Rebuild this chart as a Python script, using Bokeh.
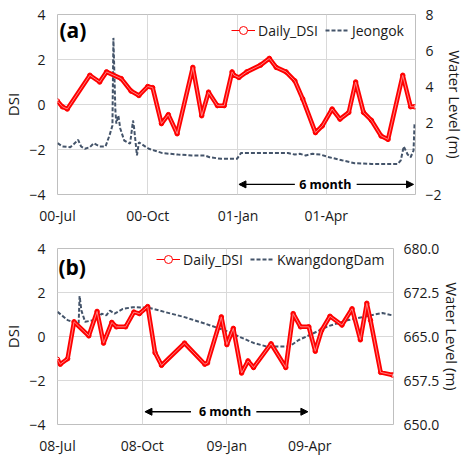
import pandas as pd
from bokeh.plotting import figure
from bokeh.models import (Range1d, LinearAxis, FixedTicker, DatetimeTickFormatter,
                          Legend, LegendItem, Label, Arrow, NormalHead, NumeralTickFormatter)
from bokeh.layouts import column
from bokeh.embed import file_html
from bokeh.resources import INLINE

# ---------------- data ----------------
A_DSI_DATES = ["2000-07-01","2000-07-06","2000-07-11","2000-08-03","2000-08-13","2000-08-20","2000-09-04","2000-09-14","2000-09-22","2000-10-01",
               "2000-10-06","2000-10-15","2000-10-22","2000-10-31","2000-11-16","2000-11-25","2000-12-02","2000-12-11","2000-12-18","2000-12-26",
               "2000-12-28","2001-01-02","2001-01-10","2001-01-24","2001-02-02","2001-02-09","2001-02-19","2001-02-28","2001-03-08","2001-03-21",
               "2001-03-28","2001-04-07","2001-04-15","2001-04-24","2001-05-01","2001-05-09","2001-05-17","2001-05-27","2001-06-03","2001-06-18",
               "2001-06-26","2001-06-30"]
A_DSI = [0.15,-0.1,-0.2,1.3,1.0,1.45,1.15,0.6,0.4,0.8,
         0.75,-0.85,-0.45,-1.3,1.65,-0.5,0.55,-0.05,-0.05,1.45,
         1.3,1.2,1.45,1.75,2.05,1.65,1.45,1.05,0.25,-1.25,
         -0.95,-0.2,-0.65,-0.35,1.0,-0.35,-0.7,-1.4,-1.55,1.3,
         -0.1,-0.1]

A_WL_DATES = ["2000-07-01","2000-07-06","2000-07-14","2000-07-18","2000-07-22","2000-07-25","2000-07-29","2000-08-03","2000-08-07","2000-08-13",
              "2000-08-19","2000-08-23","2000-08-26","2000-08-27","2000-08-29","2000-08-30","2000-09-01","2000-09-03","2000-09-07","2000-09-13",
              "2000-09-16","2000-09-17","2000-09-20","2000-09-22","2000-10-02","2000-10-16","2000-11-01","2000-11-15","2000-11-28","2000-12-03",
              "2000-12-15","2000-12-31","2001-01-04","2001-01-30","2001-02-21","2001-02-28","2001-03-05","2001-03-11","2001-03-18","2001-03-26",
              "2001-04-04","2001-04-17","2001-04-30","2001-05-17","2001-06-13","2001-06-16","2001-06-19","2001-06-23","2001-06-26","2001-06-29",
              "2001-06-30"]
A_WL = [0.85,0.67,0.63,0.82,1.04,0.67,0.54,0.63,0.85,0.67,
        0.67,1.28,1.83,6.7,2.67,1.94,2.39,1.67,1.0,0.82,
        2.11,1.74,0.17,0.9,0.54,0.3,0.22,0.17,0.17,0.07,
        -0.02,-0.02,0.3,0.3,0.3,0.22,0.26,0.17,0.26,0.22,
        0.07,-0.1,-0.26,-0.3,-0.3,-0.1,0.67,0.22,0.07,0.44,
        1.9]

B_DSI_DATES = ["2008-07-01","2008-07-04","2008-07-12","2008-07-19","2008-08-04","2008-08-13","2008-08-20","2008-08-29","2008-09-03","2008-09-13",
               "2008-09-22","2008-09-28","2008-10-07","2008-10-15","2008-10-22","2008-11-16","2008-12-08","2008-12-11","2008-12-26","2009-01-01",
               "2009-01-08","2009-01-17","2009-01-24","2009-01-30","2009-02-18","2009-03-06","2009-03-14","2009-03-22","2009-03-31","2009-04-07",
               "2009-04-14","2009-04-23","2009-05-06","2009-05-17","2009-05-26","2009-06-02","2009-06-06","2009-06-17","2009-06-30"]
B_DSI = [-1.04,-1.26,-1.01,0.67,0.03,1.14,-0.3,0.64,0.44,0.44,
         1.11,1.04,1.36,-0.74,-1.31,-0.3,-1.26,-1.2,0.89,-0.37,
         0.37,-1.66,-1.11,-1.41,-0.33,-1.41,1.04,0.44,0.44,-0.67,
         0.29,0.92,0.52,1.26,-0.15,1.51,0.74,-1.63,-1.75]

B_WL_DATES = ["2008-07-01","2008-07-12","2008-07-22","2008-07-24","2008-07-25","2008-07-27","2008-07-31","2008-08-13","2008-08-18","2008-08-23",
              "2008-08-27","2008-09-01","2008-09-10","2008-09-21","2008-10-08","2008-11-16","2008-12-08","2008-12-29","2009-01-30","2009-02-13",
              "2009-03-10","2009-03-20","2009-04-03","2009-04-20","2009-05-13","2009-06-06","2009-06-19","2009-06-30"]
B_WL = [669.2,667.8,667.2,667.3,671.9,669.4,667.5,667.9,668.9,668.6,
        669.4,668.9,669.7,670.0,669.9,668.3,667.2,666.1,663.9,663.3,
        663.3,664.4,665.4,666.7,667.8,668.6,669.0,668.6]

A_XTICKS = ["2000-07-01", "2000-10-01", "2001-01-01", "2001-04-01"]
B_XTICKS = ["2008-07-01", "2008-10-01", "2009-01-01", "2009-04-01"]
DSI_TICKS = [-4, -2, 0, 2, 4]
A_WL_TICKS = [-2, 0, 2, 4, 6, 8]
B_WL_TICKS = [650.0, 657.5, 665.0, 672.5, 680.0]

# ---------------- style ----------------
FONT = "Open Sans"
RED = "#FF0000"
DASH = "#44546A"
GRID = "#D9D9D9"
OUTLINE = "#BFBFBF"
TXT = "#1a1a1a"


def ms(s):
    return pd.Timestamp(s).value / 1e6


def dt(lst):
    return pd.to_datetime(lst)


def style_axis(ax):
    ax.major_label_text_font = FONT
    ax.major_label_text_font_size = "14px"
    ax.major_label_text_color = TXT
    ax.axis_label_text_font = FONT
    ax.axis_label_text_font_size = "15px"
    ax.axis_label_text_font_style = "normal"
    ax.axis_label_text_color = TXT
    ax.axis_line_color = None
    ax.major_tick_line_color = None
    ax.minor_tick_line_color = None
    ax.major_tick_out = 0
    ax.major_tick_in = 0


def make_panel(dsi_dates, dsi, wl_dates, wl, xticks, x0, x1, wl_range, wl_ticks, wl_fmt,
               wl_name, tag, tag_pos, arrow_spec, legend_loc, width, height, borders,
               r_standoff):
    p = figure(width=width, height=height, x_axis_type="datetime",
               x_range=Range1d(ms(x0), ms(x1)), y_range=Range1d(-4, 4),
               output_backend="svg", toolbar_location=None,
               min_border_left=borders[0], min_border_right=borders[1],
               min_border_top=borders[2], min_border_bottom=borders[3])
    try:
        p.frame_align = False
    except Exception:
        pass
    p.extra_y_ranges = {"wl": Range1d(*wl_range)}
    p.outline_line_color = OUTLINE
    p.outline_line_width = 1
    p.background_fill_color = "white"
    p.border_fill_color = "white"

    p.xaxis.ticker = FixedTicker(ticks=[ms(t) for t in xticks])
    p.xaxis.formatter = DatetimeTickFormatter(years="%y-%b", months="%y-%b", days="%y-%b",
                                              hours="%y-%b", minutes="%y-%b")
    p.yaxis.ticker = FixedTicker(ticks=DSI_TICKS)
    p.yaxis.axis_label = "DSI"
    p.xgrid.grid_line_color = GRID
    p.ygrid.grid_line_color = GRID

    rax = LinearAxis(y_range_name="wl", ticker=FixedTicker(ticks=wl_ticks),
                     axis_label="Water Level (m)")
    if wl_fmt:
        rax.formatter = NumeralTickFormatter(format=wl_fmt)
    p.add_layout(rax, "right")
    for ax in [p.xaxis[0], p.yaxis[0], rax]:
        style_axis(ax)
    p.xaxis.major_label_standoff = 11
    p.yaxis[0].major_label_standoff = 12
    p.yaxis[0].axis_label_standoff = 3
    rax.major_label_standoff = r_standoff
    rax.axis_label_standoff = 0

    # water level (dashed)
    r_wl = p.line(dt(wl_dates), wl, y_range_name="wl", line_color=DASH, line_width=2,
                  line_dash="4 2")
    # DSI: thin line + hollow markers (used for the legend), then the dense band
    r_thin = p.line(dt(dsi_dates), dsi, line_color=RED, line_width=1)
    r_mk = p.scatter(dt(dsi_dates), dsi, marker="circle", size=4.5, line_color=RED,
                     fill_color="white")
    p.line(dt(dsi_dates), dsi, line_color=RED, line_width=4.5, line_join="round")
    p.line(dt(dsi_dates), dsi, line_color="#FF8080", line_width=1, line_join="round")

    legend = Legend(items=[LegendItem(label="Daily_DSI", renderers=[r_thin, r_mk]),
                           LegendItem(label=wl_name, renderers=[r_wl])],
                    location=legend_loc, orientation="horizontal",
                    label_text_font=FONT, label_text_font_size="14px", label_text_color=TXT,
                    glyph_width=24, glyph_height=20, label_standoff=3, spacing=7,
                    padding=0, margin=0, background_fill_alpha=0, border_line_color=None,
                    label_height=20)
    p.add_layout(legend)

    # panel tag
    p.add_layout(Label(x=ms(tag_pos[0]), y=tag_pos[1], text=tag, text_font=FONT,
                       text_font_size="21px", text_font_style="bold", text_color="black",
                       text_baseline="middle"))

    # 6 month arrows
    (ls, le), (rs, re_), mid, yv = arrow_spec
    for s, e in [(ls, le), (rs, re_)]:
        p.add_layout(Arrow(end=NormalHead(size=7, fill_color="black", line_color="black"),
                           x_start=ms(s), y_start=yv, x_end=ms(e), y_end=yv,
                           line_color="black", line_width=1.3))
    p.add_layout(Label(x=ms(mid), y=yv, text="6 month", text_font=FONT, text_font_size="12.5px",
                       text_font_style="bold", text_color="black",
                       text_align="center", text_baseline="middle"))
    return p


pa = make_panel(A_DSI_DATES, A_DSI, A_WL_DATES, A_WL, A_XTICKS, "2000-07-01", "2001-07-01",
                (-2, 8), A_WL_TICKS, None, "Jeongok", "(a)", ("2000-07-03", 3.3),
                (("2001-02-28", "2001-01-02"), ("2001-05-02", "2001-06-29"), "2001-03-31", -3.55),
                (174, 154), 467, 228, (50, 52, 14, 34), 10)

pb = make_panel(B_DSI_DATES, B_DSI, B_WL_DATES, B_WL, B_XTICKS, "2008-07-01", "2009-07-01",
                (650, 680), B_WL_TICKS, "0.0", "KwangdongDam", "(b)", ("2008-07-02", 3.15),
                (("2008-11-23", "2008-10-04"), ("2009-02-02", "2009-03-30"), "2008-12-30", -3.42),
                (99, 155), 467, 229, (50, 74, 20, 30), 10)

layout = column(pa, pb, spacing=0)
open("out.html", "w").write(file_html(layout, INLINE))
